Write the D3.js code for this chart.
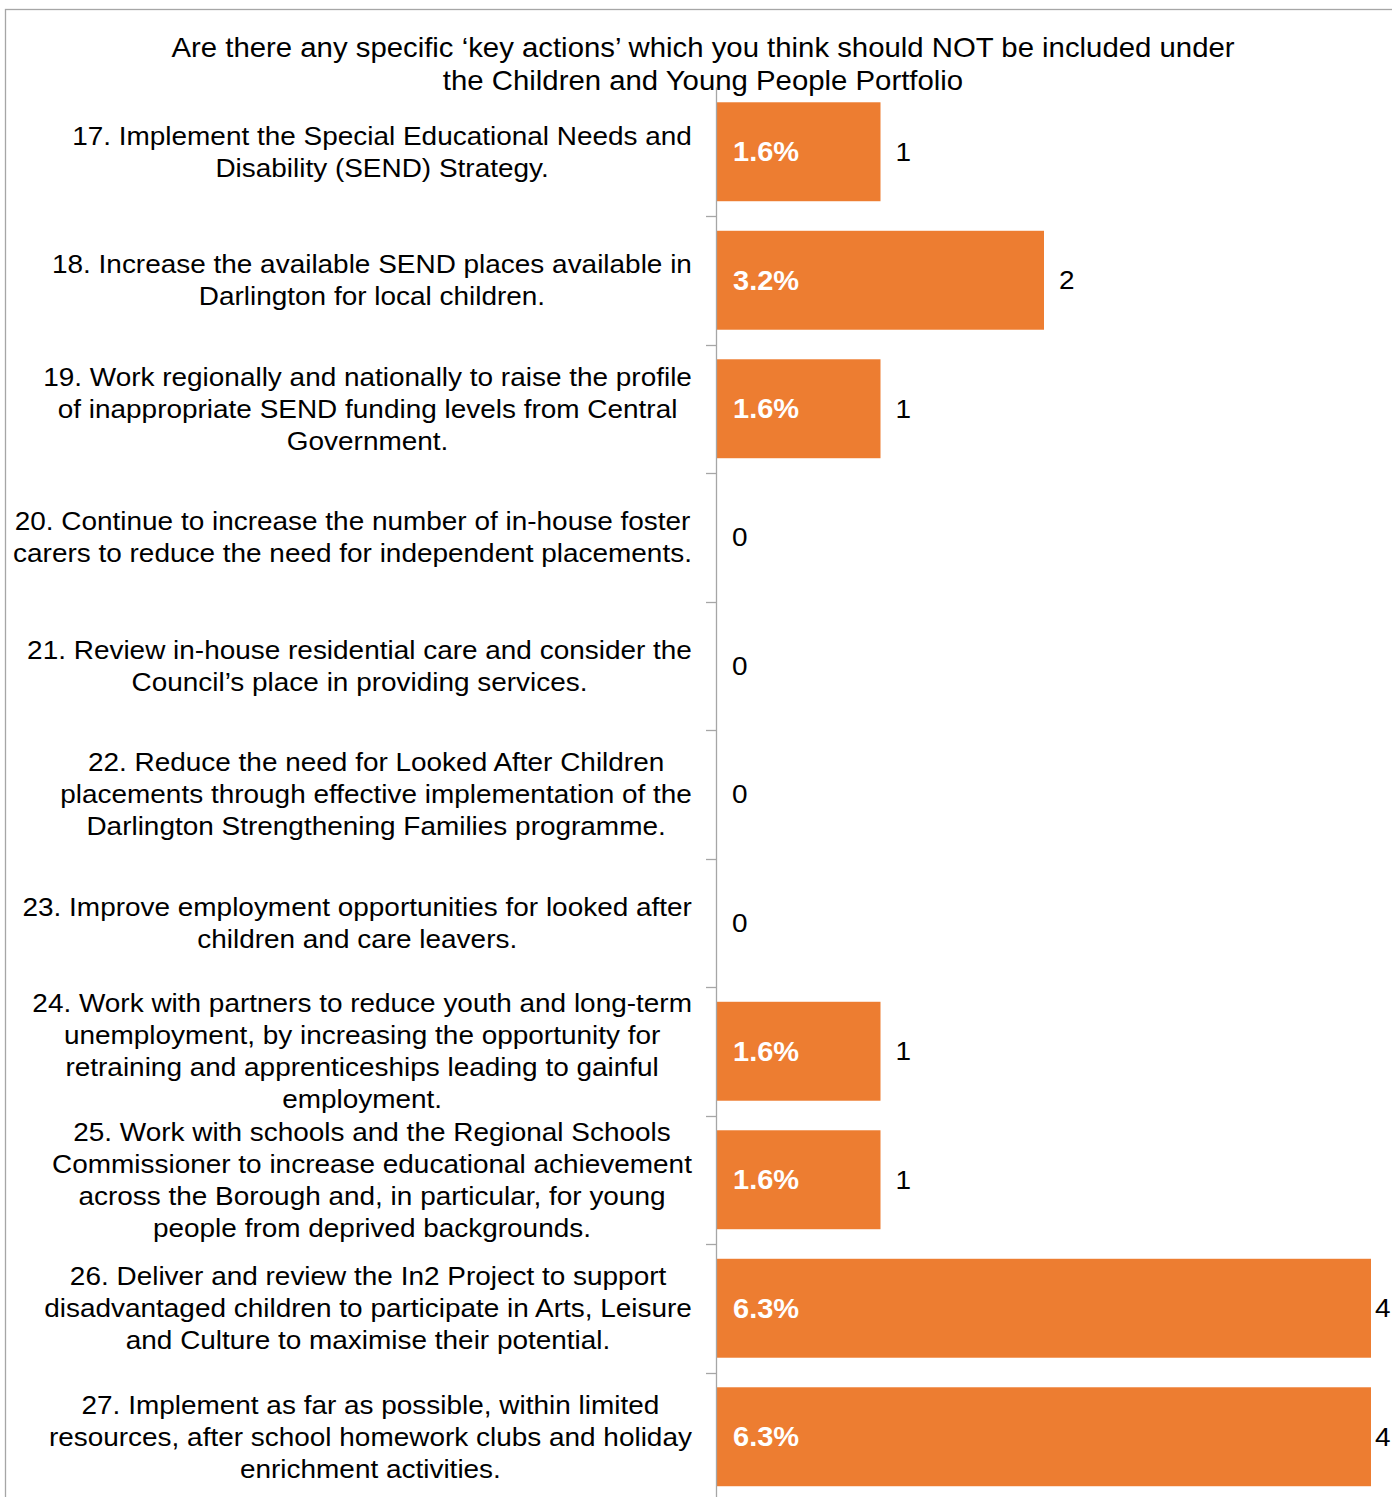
<!DOCTYPE html>
<html>
<head>
<meta charset="utf-8">
<script src="https://cdn.jsdelivr.net/npm/d3@7"></script>
<style>
  html, body { margin: 0; padding: 0; background: #fff; overflow: hidden; }
  svg { display: block; font-family: "Liberation Sans", Arial, sans-serif; }
</style>
</head>
<body>
<svg id="chart" width="1392" height="1497"></svg>
<script>
const titleLines = [
  "Are there any specific \u2018key actions\u2019 which you think should NOT be included under",
  "the Children and Young People Portfolio"
];
const categories = [
  "17. Implement the Special Educational Needs and\nDisability (SEND) Strategy.",
  "18. Increase the available SEND places available in\nDarlington for local children.",
  "19. Work regionally and nationally to raise the profile\nof inappropriate SEND funding levels from Central\nGovernment.",
  "20. Continue to increase the number of in-house foster\ncarers to reduce the need for independent placements.",
  "21. Review in-house residential care and consider the\nCouncil\u2019s place in providing services.",
  "22. Reduce the need for Looked After Children\nplacements through effective implementation of the\nDarlington Strengthening Families programme.",
  "23. Improve employment opportunities for looked after\nchildren and care leavers.",
  "24. Work with partners to reduce youth and long-term\nunemployment, by increasing the opportunity for\nretraining and apprenticeships leading to gainful\nemployment.",
  "25. Work with schools and the Regional Schools\nCommissioner to increase educational achievement\nacross the Borough and, in particular, for young\npeople from deprived backgrounds.",
  "26. Deliver and review the In2 Project to support\ndisadvantaged children to participate in Arts, Leisure\nand Culture to maximise their potential.",
  "27. Implement as far as possible, within limited\nresources, after school homework clubs and holiday\nenrichment activities."
];
const counts = [1, 2, 1, 0, 0, 0, 0, 1, 1, 4, 4];
const percents = ["1.6%", "3.2%", "1.6%", "", "", "", "", "1.6%", "1.6%", "6.3%", "6.3%"];

const W = 1392, H = 1497;
const SX = 1.075; // horizontal stretch of the reference text
const svg = d3.select("#chart");

// frame
svg.append("rect")
  .attr("x", 5.5).attr("y", 9.5)
  .attr("width", W + 20).attr("height", H + 20)
  .attr("fill", "none").attr("stroke", "#a6a6a6").attr("stroke-width", 1.3);

const x = d3.scaleLinear().domain([0, 4]).range([717, 1371]);
const y = d3.scaleBand().domain(categories).range([87.5, 1501])
  .paddingInner(0.23).paddingOuter(0.115);

const tf = (px, py) => `translate(${px},${py}) scale(${SX},1)`;

// title
svg.append("g").selectAll("text").data(titleLines).join("text")
  .attr("transform", (d, i) => tf(703, 47 + i * 33))
  .attr("dy", "0.35em")
  .attr("text-anchor", "middle")
  .attr("font-size", 27.3).attr("fill", "#000")
  .text(d => d);

// bars
svg.append("g").selectAll("rect").data(categories).join("rect")
  .attr("x", x(0))
  .attr("y", d => y(d))
  .attr("width", (d, i) => x(counts[i]) - x(0))
  .attr("height", y.bandwidth())
  .attr("fill", "#ED7D31");

// axis
const step = y.step();
const boundaries = d3.range(categories.length + 1).map(i => y.range()[0] + i * step);
const ax = svg.append("g");
ax.append("line")
  .attr("x1", x(0) - 0.5).attr("x2", x(0) - 0.5)
  .attr("y1", boundaries[0]).attr("y2", H + 10)
  .attr("stroke", "#a6a6a6").attr("stroke-width", 1.3);
ax.selectAll("line.tick").data(boundaries.slice(1)).join("line")
  .attr("class", "tick")
  .attr("x1", x(0) - 11).attr("x2", x(0) - 0.5)
  .attr("y1", d => Math.round(d) + 0.5).attr("y2", d => Math.round(d) + 0.5)
  .attr("stroke", "#a6a6a6").attr("stroke-width", 1.3);

// category labels (block right-aligned, lines centred)
const lineH = 32;
const labelRight = 692;
categories.forEach((c, i) => {
  const lines = c.split("\n");
  const g = svg.append("g");
  const cy = y(c) + y.bandwidth() / 2;
  const texts = g.selectAll("text").data(lines).join("text")
    .attr("dy", "0.35em")
    .attr("text-anchor", "middle")
    .attr("font-size", 26).attr("fill", "#000")
    .text(d => d);
  let maxW = 0;
  texts.each(function () { maxW = Math.max(maxW, this.getComputedTextLength() * SX); });
  texts.attr("transform", (d, j) => tf(labelRight - maxW / 2, cy + (j - (lines.length - 1) / 2) * lineH));
});

// percentage labels inside bars
svg.append("g").selectAll("text").data(categories).join("text")
  .attr("transform", d => tf(x(0) + 16, y(d) + y.bandwidth() / 2))
  .attr("dy", "0.35em")
  .attr("font-size", 27).attr("font-weight", "bold").attr("fill", "#fff")
  .text((d, i) => percents[i]);

// count labels
svg.append("g").selectAll("text").data(categories).join("text")
  .attr("transform", (d, i) => tf(Math.min(x(counts[i]) + 15, W - 17), y(d) + y.bandwidth() / 2))
  .attr("dy", "0.35em")
  .attr("font-size", 26).attr("fill", "#000")
  .text((d, i) => counts[i]);
</script>
</body>
</html>
